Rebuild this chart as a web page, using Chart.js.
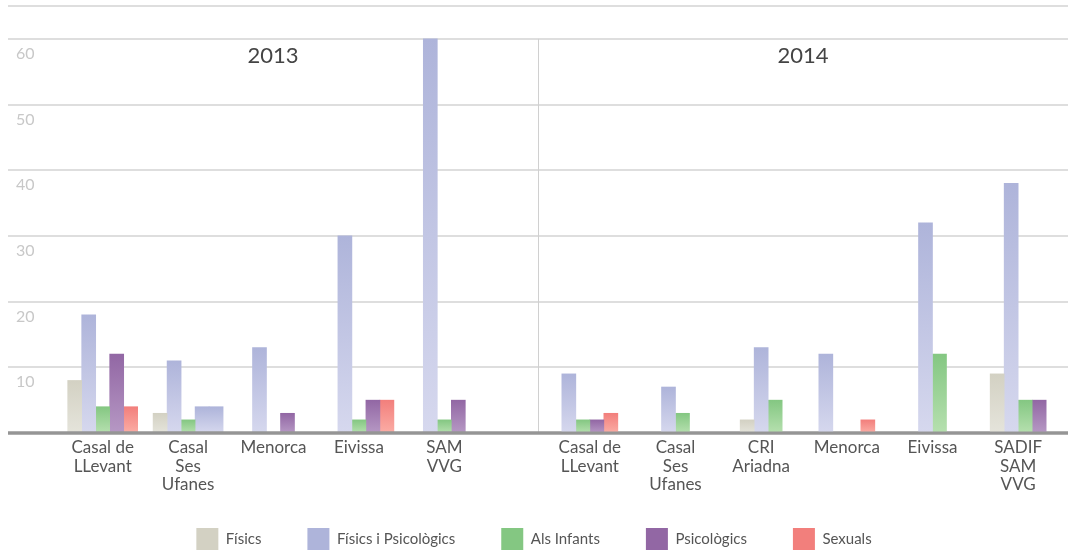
<!DOCTYPE html>
<html>
<head>
<meta charset="utf-8">
<script src="https://cdn.jsdelivr.net/npm/chart.js@4.4.1/dist/chart.umd.min.js"></script>
<style>
  html, body { margin: 0; padding: 0; background: #fff; }
  #wrap { position: relative; width: 1068px; height: 551px; overflow: hidden; }
  #wrap canvas { position: absolute; left: 0; top: 0; }
  #wrap #legendBox { top: 482px; }
</style>
</head>
<body>
<div id="wrap">
  <canvas id="c2013" width="1068" height="551"></canvas>
  <canvas id="c2014" width="1068" height="551"></canvas>
  <canvas id="legendBox" width="1068" height="240"></canvas>
</div>
<script>
const years = ['2013', '2014'];
const seriesNames = ['Físics', 'Físics i Psicològics', 'Als Infants', 'Psicològics', 'Sexuals'];
const centres2013 = [['Casal de', 'LLevant'], ['Casal', 'Ses', 'Ufanes'], 'Menorca', 'Eivissa', ['SAM', 'VVG']];
const centres2014 = [['Casal de', 'LLevant'], ['Casal', 'Ses', 'Ufanes'], ['CRI', 'Ariadna'], 'Menorca', 'Eivissa', ['SADIF', 'SAM', 'VVG']];
const yTicks = [10, 20, 30, 40, 50, 60];

// null = no bar in that group, 0 = an empty slot
const fisics2013 = [8, 3, null, 0, null];
const fisPsi2013 = [18, 11, 13, 30, 60];
const infants2013 = [4, 2, 0, 2, 2];
const psico2013 = [12, 4, 3, 5, 5];
const sexuals2013 = [4, 4, null, 5, null];

const fisics2014 = [null, null, 2, null, null, 9];
const fisPsi2014 = [9, 7, 13, 12, 32, 38];
const infants2014 = [2, 3, 5, 0, 12, 5];
const psico2014 = [2, null, null, 0, null, 5];
const sexuals2014 = [3, null, null, 2, null, null];

// in the original, these two Casal Ses Ufanes 2013 bars are drawn in the lavender colour
const lavenderBars2013 = { 1: ['Psicològics', 'Sexuals'] };

Chart.defaults.font.family = 'Lato, "Open Sans", sans-serif';

const palette = {
  'Físics': ['#d3d1c3', '#e5e4db'],
  'Físics i Psicològics': ['#aeb4da', '#d6d8ee'],
  'Als Infants': ['#84c782', '#b6e0af'],
  'Psicològics': ['#9267a4', '#b698c4'],
  'Sexuals': ['#f27f7c', '#fbada5']
};

function fillFor(name, recolour) {
  return ctx => {
    let [top, bottom] = palette[name];
    if (ctx.type !== 'data') return top;
    const odd = recolour && recolour[ctx.dataIndex];
    if (odd && odd.includes(name)) [top, bottom] = palette['Físics i Psicològics'];
    const area = ctx.chart.chartArea;
    if (!area || !ctx.raw) return top;
    const y = ctx.chart.scales.y;
    const g = ctx.chart.ctx.createLinearGradient(0, y.getPixelForValue(ctx.raw), 0, y.getPixelForValue(0));
    g.addColorStop(0, top);
    g.addColorStop(1, bottom);
    return g;
  };
}

function makeDatasets(lists, recolour) {
  return seriesNames.map((name, i) => ({
    label: name,
    data: lists[i],
    backgroundColor: fillFor(name, recolour),
    borderWidth: 0,
    barThickness: 14,
    skipNull: true
  }));
}

const panelDecor = {
  id: 'panelDecor',
  beforeDatasetsDraw(chart) {
    const { ctx, scales: { y } } = chart;
    const left = 8, right = chart.width, mid = (left + right) / 2;
    ctx.save();
    ctx.strokeStyle = '#dedede';
    ctx.lineWidth = 2;
    y.ticks.forEach(t => {
      if (t.value === 0) return;
      const py = Math.round(y.getPixelForValue(t.value));
      ctx.beginPath();
      ctx.moveTo(left, py);
      ctx.lineTo(right, py);
      ctx.stroke();
    });
    ctx.strokeStyle = '#d0d0d0';
    ctx.lineWidth = 1;
    ctx.beginPath();
    ctx.moveTo(Math.round(mid) + 0.5, y.getPixelForValue(yTicks[yTicks.length - 1]));
    ctx.lineTo(Math.round(mid) + 0.5, y.getPixelForValue(0));
    ctx.stroke();
    ctx.fillStyle = '#444';
    ctx.font = '22px Lato, "Open Sans", sans-serif';
    ctx.textAlign = 'center';
    ctx.textBaseline = 'middle';
    years.forEach((yr, i) => ctx.fillText(yr, left + (i + 0.5) * (right - left) / 2, 56));
    ctx.restore();
  }
};

const baseLine = {
  id: 'baseLine',
  afterDatasetsDraw(chart) {
    const { ctx, scales: { y } } = chart;
    const py = y.getPixelForValue(0);
    ctx.save();
    ctx.strokeStyle = '#959595';
    ctx.lineWidth = 3;
    ctx.beginPath();
    ctx.moveTo(8, py);
    ctx.lineTo(chart.width, py);
    ctx.stroke();
    ctx.restore();
  }
};

const xAxis = {
  grid: { display: false, drawTicks: false },
  border: { display: false },
  ticks: { color: '#555', font: { size: 17, lineHeight: 1.1 }, padding: 5, maxRotation: 0, autoSkip: false },
  afterFit: s => { s.height = 64; }
};

function reserve(position, width) {
  return {
    position, min: 0, max: 65,
    grid: { display: false, drawTicks: false },
    border: { display: false },
    ticks: { display: false },
    afterFit: s => { s.width = width; }
  };
}

const quiet = { tooltip: { enabled: false }, legend: { display: false } };

new Chart(document.getElementById('c2013'), {
  type: 'bar',
  data: {
    labels: centres2013,
    datasets: makeDatasets([fisics2013, fisPsi2013, infants2013, psico2013, sexuals2013], lavenderBars2013)
  },
  options: {
    responsive: false,
    animation: false,
    layout: { padding: { top: 6, left: 16, right: 0, bottom: 54 } },
    plugins: quiet,
    scales: {
      x: xAxis,
      y: {
        min: 0, max: 65,
        grid: { display: false, drawTicks: false },
        border: { display: false },
        ticks: {
          stepSize: 10, padding: 0, crossAlign: 'far', labelOffset: 15,
          color: '#c8c8c8', font: { size: 16, lineHeight: 0.6 },
          callback: v => yTicks.includes(v) ? v : ''
        },
        afterFit: s => { s.width = 44; }
      },
      yRight: reserve('right', 581)
    }
  },
  plugins: [panelDecor, baseLine]
});

new Chart(document.getElementById('c2014'), {
  type: 'bar',
  data: {
    labels: centres2014,
    datasets: makeDatasets([fisics2014, fisPsi2014, infants2014, psico2014, sexuals2014])
  },
  options: {
    responsive: false,
    animation: false,
    layout: { padding: { top: 6, left: 0, right: 7, bottom: 54 } },
    plugins: quiet,
    scales: {
      x: xAxis,
      y: reserve('left', 547)
    }
  },
  plugins: [baseLine]
});

// shared legend for both panels
new Chart(document.getElementById('legendBox'), {
  type: 'bar',
  data: {
    labels: [],
    datasets: seriesNames.map(name => ({ label: name, data: [], backgroundColor: palette[name][0], borderWidth: 0 }))
  },
  options: {
    responsive: false,
    animation: false,
    events: [],
    plugins: {
      tooltip: { enabled: false },
      legend: {
        position: 'top',
        labels: { boxWidth: 22, boxHeight: 22, padding: 46, color: '#555', font: { size: 15 } }
      }
    },
    scales: { x: { display: false }, y: { display: false } }
  }
});
</script>
</body>
</html>
